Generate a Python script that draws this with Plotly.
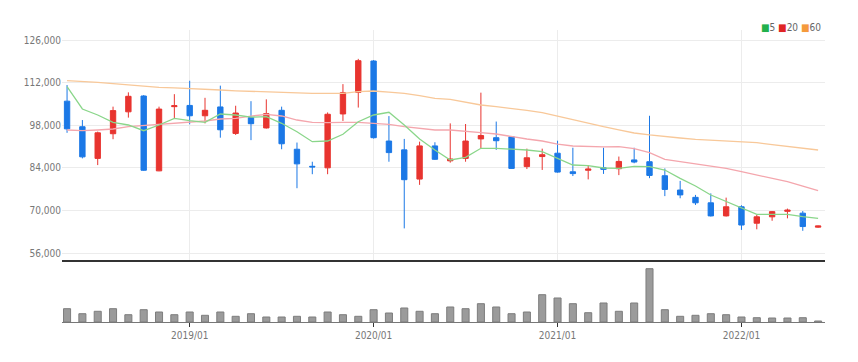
import plotly.graph_objects as go

months = ["2018/05","2018/06","2018/07","2018/08","2018/09","2018/10","2018/11","2018/12",
          "2019/01","2019/02","2019/03","2019/04","2019/05","2019/06","2019/07","2019/08",
          "2019/09","2019/10","2019/11","2019/12","2020/01","2020/02","2020/03","2020/04",
          "2020/05","2020/06","2020/07","2020/08","2020/09","2020/10","2020/11","2020/12",
          "2021/01","2021/02","2021/03","2021/04","2021/05","2021/06","2021/07","2021/08",
          "2021/09","2021/10","2021/11","2021/12","2022/01","2022/02","2022/03","2022/04",
          "2022/05","2022/06"]

opens = [105900, 97500, 87100, 95200, 102400, 107600, 83000, 104100, 104500, 101100,
         104000, 95300, 100500, 97100, 102900, 90100, 84500, 84000, 101700, 108800,
         119100, 92800, 89900, 80300, 91200, 86300, 87100, 93500, 93900, 94200,
         84400, 87700, 88800, 82700, 83200, 84000, 83700, 86600, 86000, 81400,
         76700, 74300, 72500, 68200, 71200, 65800, 67900, 69700, 69100, 64500]
highs = [111200, 99700, 95900, 104100, 108800, 107900, 104100, 108200, 112600, 107000,
         111000, 104400, 105900, 106500, 104100, 92300, 86000, 102200, 111500, 119800,
         119400, 101000, 93500, 92600, 92400, 98600, 98400, 108700, 99200, 94300,
         90300, 90300, 92900, 90600, 84900, 90600, 87700, 90600, 101100, 83800,
         79700, 75100, 75600, 74200, 71700, 68500, 69800, 70600, 69800, 65000]
lows = [95500, 87100, 84900, 93400, 100500, 83000, 82900, 100300, 98300, 98600,
        93900, 94800, 93100, 96900, 90100, 77300, 81900, 81900, 99400, 103800,
        93600, 86000, 64100, 78400, 86600, 85700, 86000, 90400, 89900, 83700,
        83600, 83300, 82400, 81300, 80200, 82000, 81600, 85500, 80600, 74700,
        74000, 71800, 68000, 68000, 63600, 63800, 66600, 67400, 63300, 64300]
closes = [96800, 87600, 95500, 102800, 107500, 83200, 103300, 104400, 101100, 102900,
          96500, 102000, 98500, 101800, 91900, 85300, 84300, 101600, 108700, 119200,
          93900, 89000, 80100, 91200, 86800, 86900, 92800, 94600, 92900, 83800,
          87300, 88300, 82600, 82100, 83600, 83500, 86100, 85900, 81500, 76900,
          75100, 72500, 68200, 71200, 65200, 67900, 69600, 70100, 64700, 64900]

ma5 = [110650, 103330, 101360, 98960, 98070, 96200, 98070, 100270, 99480, 98960,
       101680, 101360, 100640, 100800, 98630, 95870, 92580, 92810, 95010, 99150,
       101360, 102240, 98070, 93470, 89850, 86570, 87450, 90410, 90410, 90180,
       89850, 89310, 87130, 84920, 84700, 83940, 83840, 84480, 84370, 83280,
       80550, 78020, 75070, 72870, 70700, 68720, 68720, 68720, 67940, 67410]
ma20 = [96430, 96200, 96430, 96760, 97510, 97840, 98300, 98630, 98960, 99380,
        100040, 100270, 101000, 101590, 101030, 99710, 98960, 98830, 98960, 98960,
        98630, 98300, 97510, 96980, 96430, 96430, 96100, 95540, 95110, 94220,
        93470, 92810, 91820, 91170, 90940, 90900, 90940, 90300, 88970, 86800,
        86010, 85250, 84600, 83840, 82720, 81640, 80550, 79440, 78020, 76480]
ma60 = [112630, 112400, 112100, 111650, 111210, 110830, 110460, 110300, 110130, 109850,
        109570, 109300, 109100, 108950, 108810, 108650, 108480, 108480, 108480, 109010,
        109240, 108900, 108480, 107700, 106840, 106510, 105600, 104640, 104100, 103550,
        102850, 102110, 100900, 99710, 98600, 97510, 96500, 95440, 94800, 94220,
        93800, 93370, 93140, 92910, 92580, 92250, 91600, 90940, 90400, 89850]

volumes = [133, 83, 107, 133, 73, 123, 100, 73, 100, 67,
           100, 57, 83, 50, 50, 57, 50, 100, 73, 57,
           123, 90, 140, 107, 83, 150, 133, 183, 150, 83,
           100, 273, 240, 183, 93, 190, 107, 190, 533, 123,
           57, 67, 83, 73, 50, 43, 40, 40, 43, 10]

price_ticks = [56000, 70000, 84000, 98000, 112000, 126000]
price_tick_text = ["56,000", "70,000", "84,000", "98,000", "112,000", "126,000"]
year_ticks = ["2019/01", "2020/01", "2021/01", "2022/01"]

RED = "#e8342f"
BLUE = "#1b78e6"
FONT = "Liberation Sans Narrow, DejaVu Sans Condensed, Arial Narrow, sans-serif"

fig = go.Figure()
fig.add_trace(go.Scatter(x=months, y=ma60, mode="lines", line=dict(color="#f8c899", width=1.3),
                         showlegend=False, xaxis="x", yaxis="y"))
fig.add_trace(go.Scatter(x=months, y=ma20, mode="lines", line=dict(color="#f4a6ad", width=1.3),
                         showlegend=False, xaxis="x", yaxis="y"))
fig.add_trace(go.Scatter(x=months, y=ma5, mode="lines", line=dict(color="#8ad68a", width=1.3),
                         showlegend=False, xaxis="x", yaxis="y"))
fig.add_trace(go.Candlestick(
    x=months, open=opens, high=highs, low=lows, close=closes,
    increasing=dict(line=dict(color=RED, width=1), fillcolor=RED),
    decreasing=dict(line=dict(color=BLUE, width=1), fillcolor=BLUE),
    showlegend=False, xaxis="x", yaxis="y"))
fig.add_trace(go.Bar(x=months, y=volumes, marker=dict(color="#9b9b9b", line=dict(color="#7d7d7d", width=1)),
                     width=0.46, showlegend=False, xaxis="x2", yaxis="y2"))

xr = [-0.33, 49.45]
fig.update_layout(
    width=850, height=354,
    margin=dict(l=54, r=33, t=22, b=40),
    paper_bgcolor="white", plot_bgcolor="white",
    boxgap=0.5,
    font=dict(family=FONT, size=10, color="#777"),
    xaxis=dict(type="category", categoryorder="array", categoryarray=months, range=xr,
               anchor="y", domain=[0, 1], rangeslider=dict(visible=False),
               tickvals=year_ticks, showticklabels=False, showgrid=True, gridcolor="#ececec",
               showline=True, linecolor="#333", linewidth=2, ticks="", zeroline=False),
    yaxis=dict(domain=[0.2123, 1], range=[53708, 129286], tickvals=price_ticks,
               ticktext=price_tick_text, showgrid=True, gridcolor="#ececec", gridwidth=1,
               zeroline=False, ticks="", automargin=False,
               tickfont=dict(size=10, color="#777", family=FONT)),
    xaxis2=dict(type="category", categoryorder="array", categoryarray=months, range=xr,
                anchor="y2", domain=[0, 1], tickvals=year_ticks, ticktext=year_ticks,
                showgrid=False, showline=True, linecolor="#777", linewidth=1,
                ticks="outside", ticklen=4, tickcolor="#333", tickwidth=1, automargin=False,
                tickfont=dict(size=10, color="#777", family=FONT)),
    yaxis2=dict(domain=[0, 0.2055], range=[0, 600], showgrid=False, showticklabels=False,
                zeroline=False, ticks=""),
    annotations=[dict(
        xref="paper", yref="paper", x=0.997, y=1.01, xanchor="right", yanchor="middle",
        showarrow=False, font=dict(size=10, color="#666", family=FONT),
        text="<span style='color:#22b14c'>■</span>5 <span style='color:#e02424'>■</span>20 "
             "<span style='color:#f59a3c'>■</span>60")],
)

fig.write_html("out.html")
